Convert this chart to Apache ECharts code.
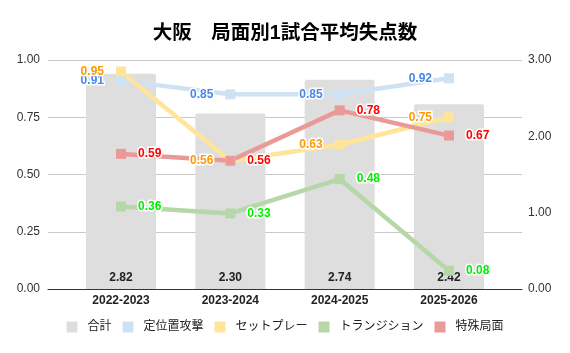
<!DOCTYPE html>
<html><head><meta charset="utf-8">
<script src="https://cdn.jsdelivr.net/npm/echarts@6/dist/echarts.min.js"></script>
<style>html,body{margin:0;padding:0;background:#fff}#c{width:570px;height:353px}</style>
</head><body><div id="c"></div>
<script>
const categories = ['2022-2023','2023-2024','2024-2025','2025-2026'];
const total = [2.82, 2.30, 2.74, 2.42];
const setPiece_open = [0.91, 0.85, 0.85, 0.92]; // 定位置攻撃
const setPlay = [0.95, 0.56, 0.63, 0.75];       // セットプレー
const transition = [0.36, 0.33, 0.48, 0.08];    // トランジション
const special = [0.59, 0.56, 0.78, 0.67];       // 特殊局面
const leftTicks = [0, 0.25, 0.5, 0.75, 1];
const rightTicks = [0, 1, 2, 3];

const FONT = '"Liberation Sans", Arial, "Noto Sans CJK JP", sans-serif';
const chart = echarts.init(document.getElementById('c'), null, {renderer:'canvas'});

function lineSeries(name, data, lineColor, labelColor, pos) {
  return {
    name, type:'line', data, xAxisIndex:1, yAxisIndex:2,
    symbol:'rect', symbolSize:10, z:5,
    lineStyle:{color:lineColor, width:4.5},
    itemStyle:{color:lineColor},
    label:{show:true, position:pos, distance:12, color:labelColor, fontWeight:'bold', fontSize:12,
      fontFamily:FONT, textBorderColor:'#fff', textBorderWidth:3,
      formatter: p => p.value.toFixed(2)}
  };
}

chart.setOption({
  animation:false,
  textStyle:{fontFamily:FONT},
  title:{text:'大阪　局面別1試合平均失点数', left:'center', top:19,
    textStyle:{fontSize:19.5, fontWeight:'bold', color:'#000', fontFamily:FONT}},
  legend:{bottom:15, left:'center', itemWidth:11, itemHeight:11, itemGap:11,
    icon:'rect', textStyle:{fontSize:12, color:'#222', fontFamily:FONT, padding:[0,0,0,5]},
    data:['合計','定位置攻撃','セットプレー','トランジション','特殊局面']},
  grid:[
    {left:48, right:48, top:60, bottom:64},
    {left:66.3, right:66.3, top:60, bottom:64}
  ],
  xAxis:[
    {type:'category', gridIndex:0, data:[''], axisLine:{show:true, lineStyle:{color:'#333', width:1}},
      axisTick:{show:false}, axisLabel:{show:false}},
    {type:'category', gridIndex:1, data:categories, axisLine:{show:false}, axisTick:{show:false},
      axisLabel:{fontWeight:'bold', fontSize:12, color:'#222', margin:6, fontFamily:FONT}}
  ],
  yAxis:[
    {type:'value', gridIndex:0, min:leftTicks[0], max:leftTicks[leftTicks.length-1], interval:0.25,
      axisLabel:{formatter:v=>v.toFixed(2), color:'#333', fontSize:12, margin:8},
      axisLine:{show:false}, axisTick:{show:false}, splitLine:{lineStyle:{color:'#c8c8c8'}}},
    {type:'value', gridIndex:0, position:'right', min:rightTicks[0], max:rightTicks[rightTicks.length-1], interval:1,
      axisLabel:{formatter:v=>v.toFixed(2), color:'#333', fontSize:12, margin:6},
      axisLine:{show:false}, axisTick:{show:false}, splitLine:{show:false}},
    {type:'value', gridIndex:1, min:0, max:1, show:false},
    {type:'value', gridIndex:1, min:0, max:3, show:false, position:'right'}
  ],
  series:[
    {name:'合計', type:'bar', data:total, xAxisIndex:1, yAxisIndex:3, barWidth:70, z:2,
      itemStyle:{color:'#dedede', borderRadius:[2,2,0,0]},
      label:{show:true, position:'insideBottom', distance:5, color:'#222', fontWeight:'bold', fontSize:12,
        fontFamily:FONT, formatter:p=>p.value.toFixed(2)}},
    lineSeries('定位置攻撃', setPiece_open, '#cfe2f3', '#4a86e8', 'left'),
    lineSeries('セットプレー', setPlay, '#ffe599', '#ff9900', 'left'),
    lineSeries('トランジション', transition, '#b6d7a8', '#00ee00', 'right'),
    lineSeries('特殊局面', special, '#ea9999', '#ff0000', 'right')
  ]
});
</script></body></html>
